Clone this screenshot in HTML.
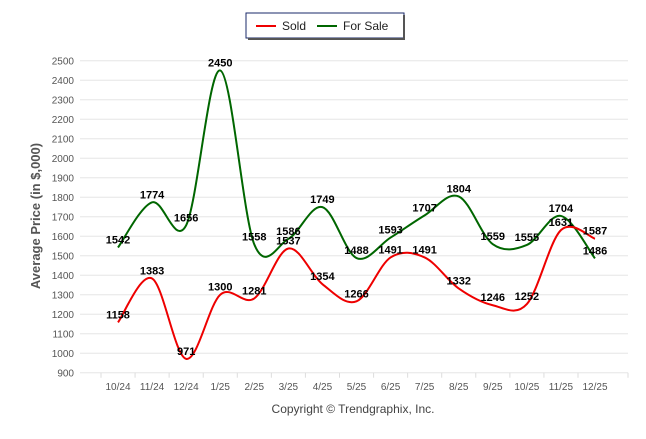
<!DOCTYPE html>
<html><head><meta charset="utf-8"><style>
body{margin:0;background:#fff;font-family:"Liberation Sans",sans-serif}
</style></head><body>
<svg id="chart" width="646" height="434" xmlns="http://www.w3.org/2000/svg">
<g>
<rect x="246" y="13" width="158" height="25" fill="#fff" stroke="#1a2a6a" stroke-width="1"/>
<line x1="404" y1="15" x2="404" y2="39" stroke="#555" stroke-width="2"/>
<line x1="248" y1="39" x2="405" y2="39" stroke="#555" stroke-width="2"/>
<g><line x1="256" y1="26" x2="276" y2="26" stroke="#e00" stroke-width="2"/><text x="282" y="30" font-size="12" fill="#222">Sold</text></g>
<g><line x1="317" y1="26" x2="337" y2="26" stroke="#060" stroke-width="2"/><text x="343" y="30" font-size="12" fill="#222">For Sale</text></g>
</g>
<g id="grid"></g><g id="axes"></g><g id="series"></g><g id="labels"></g>
<text x="40" y="216" transform="rotate(-90 40 216)" text-anchor="middle" font-size="13" font-weight="bold" fill="#555">Average Price (in $,000)</text>
<text x="353" y="413" text-anchor="middle" font-size="12" fill="#444">Copyright © Trendgraphix, Inc.</text>
</svg>
<script>
const categories=["10/24","11/24","12/24","1/25","2/25","3/25","4/25","5/25","6/25","7/25","8/25","9/25","10/25","11/25","12/25"];
const sold=[1158,1383,971,1300,1281,1537,1354,1266,1491,1491,1332,1246,1252,1631,1587];
const forSale=[1542,1774,1656,2450,1558,1586,1749,1488,1593,1707,1804,1559,1555,1704,1486];
const yTicks=[900,1000,1100,1200,1300,1400,1500,1600,1700,1800,1900,2000,2100,2200,2300,2400,2500];
const NS="http://www.w3.org/2000/svg";
const X0=80,X1=628,Y0=372.7,Y1=60.7;
function xs(i){return 118+i*(595-118)/(categories.length-1);}
function ys(v){return Y0-(v-900)/(2500-900)*(Y0-Y1);}
function mk(t,a,p){const e=document.createElementNS(NS,t);for(const k in a)e.setAttribute(k,a[k]);p.appendChild(e);return e;}
const grid=document.getElementById('grid'),axes=document.getElementById('axes'),ser=document.getElementById('series'),lab=document.getElementById('labels');
yTicks.forEach(v=>{
 const l=mk('line',{x1:X0,x2:X1,y1:ys(v),y2:ys(v),stroke:'#e6e6e6','stroke-width':1},grid);
 
 
 const t=mk('text',{x:74,y:ys(v)+4,'text-anchor':'end','font-size':10,fill:'#555'},axes);
 t.textContent=v;
 
 
});
for(let i=0;i<=categories.length;i++){
 const x=i<categories.length?xs(i)-17:X1;
 mk('line',{x1:x,x2:x,y1:Y0,y2:Y0+5,stroke:'#ddd'},axes);
}
categories.forEach((c,i)=>{
 const t=mk('text',{x:xs(i),y:390,'text-anchor':'middle','font-size':10,fill:'#555'},axes);
 t.textContent=c;
 
 
});
function path(vals){
 const p=vals.map((v,i)=>[xs(i),ys(v)]);
 let d=`M${p[0][0]},${p[0][1]}`;
 for(let i=0;i<p.length-1;i++){
  const p0=p[i-1]||p[i],p1=p[i],p2=p[i+1],p3=p[i+2]||p2;
  const c1=[p1[0]+(p2[0]-p0[0])/6,p1[1]+(p2[1]-p0[1])/6];
  const c2=[p2[0]-(p3[0]-p1[0])/6,p2[1]-(p3[1]-p1[1])/6];
  d+=` C${c1[0]},${c1[1]} ${c2[0]},${c2[1]} ${p2[0]},${p2[1]}`;
 }
 return d;
}
const s1=mk('path',{d:path(forSale),fill:'none',stroke:'#006600','stroke-width':2},ser);


const s2=mk('path',{d:path(sold),fill:'none',stroke:'#ee0000','stroke-width':2},ser);


[[forSale,'for-sale-value'],[sold,'sold-value']].forEach(([arr,n])=>{
 arr.forEach((v,i)=>{
  const t=mk('text',{x:xs(i),y:ys(v)-4,'text-anchor':'middle','font-size':11,'font-weight':'bold',fill:'#000'},lab);
  t.textContent=v;
  
  
 });
});
</script>
</body></html>
